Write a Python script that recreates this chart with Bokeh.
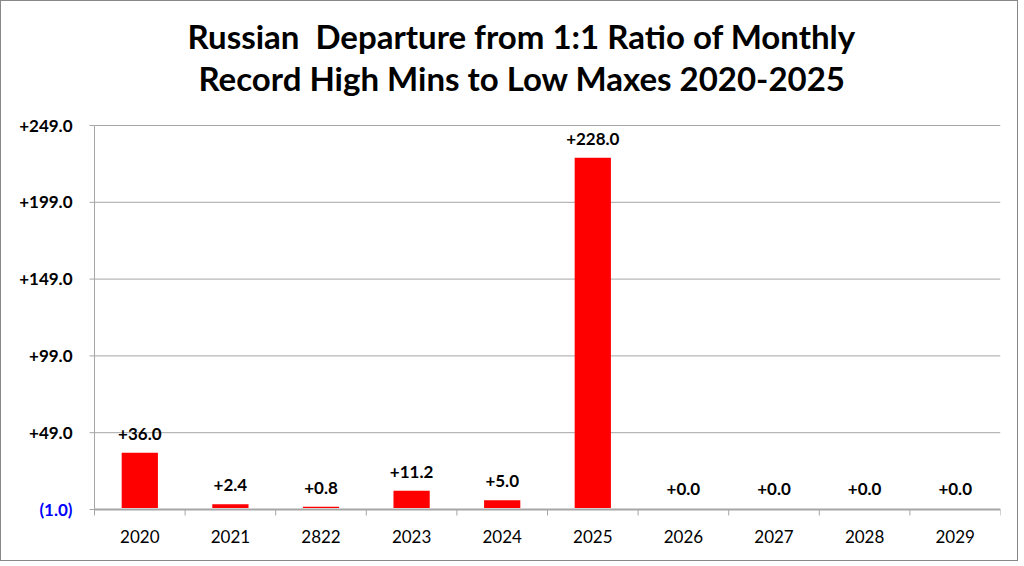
from bokeh.plotting import figure
from bokeh.models import ColumnDataSource, FixedTicker, Title, Range1d, CustomJSTickFormatter
from bokeh.core.properties import value
from bokeh.embed import file_html
from bokeh.resources import INLINE

# data
years = ["2020", "2021", "2822", "2023", "2024", "2025", "2026", "2027", "2028", "2029"]
departures = [36.0, 2.4, 0.8, 11.2, 5.0, 228.0, 0.0, 0.0, 0.0, 0.0]
y_ticks = [-1, 49, 99, 149, 199, 249]
title_lines = ["Russian  Departure from 1:1 Ratio of Monthly",
               "Record High Mins to Low Maxes 2020-2025"]

FONT = "Lato"
GREY = "#a6a6a6"

n = len(years)
y_min, y_max = y_ticks[0], y_ticks[-1]

# mise en page (pixels) : zone de tracé 94..1000 x 125..509, cadre élargi
# à gauche pour que les libellés de l'axe y soient des glyphes non rognés
PX_X = (1000 - 94) / n
PX_Y = (509 - 125) / (y_max - y_min)
x_range = Range1d(-(94 - 8) / PX_X, n)
y_range = Range1d(y_min - 12 / PX_Y, y_max + 15 / PX_Y)

xs = [i + 0.5 for i in range(n)]
bars = ColumnDataSource(dict(x=xs, top=departures,
                             label=["%+.1f" % v for v in departures]))
yax = ColumnDataSource(dict(
    y=y_ticks,
    label=["(%.1f)" % abs(v) if v < 0 else "%+.1f" % v for v in y_ticks],
    color=["#0000ff" if v < 0 else "black" for v in y_ticks]))

p = figure(width=1018, height=561, x_range=x_range, y_range=y_range,
           y_axis_location=None, output_backend="svg", toolbar_location=None,
           min_border_left=7, min_border_right=19, min_border_bottom=41,
           min_border_top=109)
p.title.visible = False

# titre : une ligne par Title, du plus proche du cadre au plus éloigné
p.add_layout(Title(text="\u00a0", text_font_size="10px", standoff=0), "above")
for txt, left in zip(reversed(title_lines), (190, 179)):
    p.add_layout(Title(text=txt.replace("  ", " \u00a0"), align="left", offset=left,
                       text_font=FONT, text_font_style="bold",
                       text_font_size="33px", text_color="black", standoff=0), "above")

# grille horizontale
p.segment(x0=0, y0="y", x1=n, y1="y", source=yax, line_color=GREY, line_width=1)

p.vbar(x="x", top="top", bottom=0, width=0.4, source=bars,
       fill_color="#ff0000", line_color=None)
p.text(x="x", y="top", text="label", source=bars, text_align="center",
       text_baseline="bottom", y_offset=-13, text_font=value(FONT),
       text_font_style="bold", text_font_size="17px", text_color="black")

# axe y dessiné : ligne, graduations, libellés (le négatif en bleu)
p.segment(x0=0, y0=y_min, x1=0, y1=y_max, line_color=GREY, line_width=1)
p.segment(x0=-5 / PX_X, y0="y", x1=0, y1="y", source=yax, line_color=GREY, line_width=1)
p.text(x=0, y="y", text="label", source=yax, x_offset=-22, text_align="right",
       text_baseline="middle", text_color="color", text_font=value(FONT),
       text_font_style="bold", text_font_size="17px")

# axe x dessiné : ligne et petits traits entre les catégories
p.segment(x0=0, y0=y_min, x1=n, y1=y_min, line_color=GREY, line_width=2)
p.segment(x0=list(range(n + 1)), y0=y_min, x1=list(range(n + 1)), y1=y_min - 6 / PX_Y,
          line_color=GREY, line_width=1)

# libellés des catégories via l'axe x
p.xaxis.ticker = FixedTicker(ticks=xs, minor_ticks=[])
p.xaxis.formatter = CustomJSTickFormatter(args=dict(names=years),
                                          code="return names[Math.floor(tick)];")
p.xaxis.axis_line_color = None
p.xaxis.major_tick_out = 0
p.xaxis.major_tick_in = 0
p.xaxis.major_label_text_font = FONT
p.xaxis.major_label_text_font_size = "17px"
p.xaxis.major_label_text_color = "black"
p.xaxis.major_label_standoff = 8

p.xgrid.grid_line_color = None
p.ygrid.grid_line_color = None
p.outline_line_color = None
p.styles = {"border": "1px solid #888888"}

open("out.html", "w").write(file_html(p, INLINE))
